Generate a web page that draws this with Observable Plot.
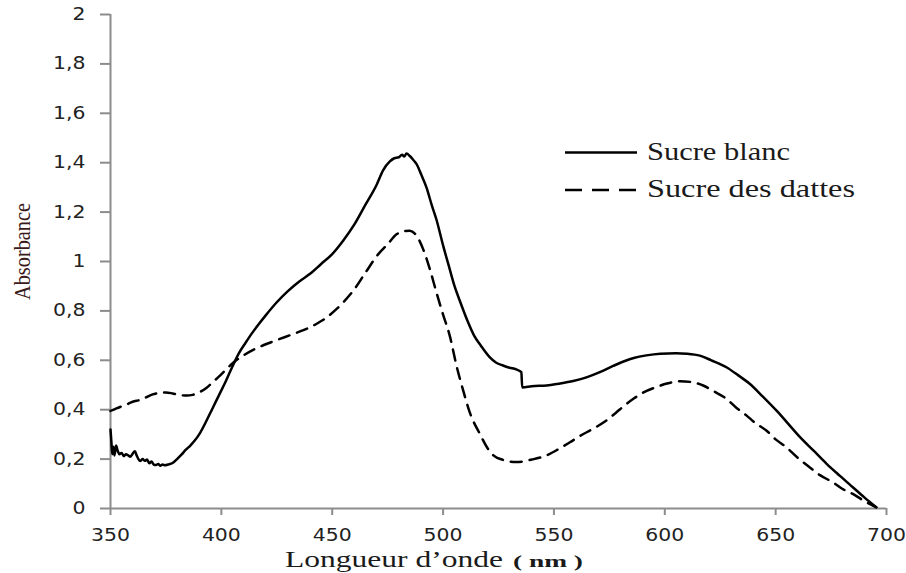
<!DOCTYPE html>
<html>
<head>
<meta charset="utf-8">
<script src="https://cdn.jsdelivr.net/npm/d3@7"></script>
<script src="https://cdn.jsdelivr.net/npm/@observablehq/plot@0.6"></script>
<style>
  html, body { margin: 0; padding: 0; background: #fff; }
  #chart svg [aria-label="y-axis tick"], #chart svg [aria-label="x-axis tick"] { stroke: #8c8c8c; stroke-width: 2px; }
  #chart svg [aria-label="y-axis tick label"], #chart svg [aria-label="x-axis tick label"] { fill: #222; }
</style>
</head>
<body>
<div id="chart"></div>
<script>
// Wavelength (nm) and absorbance values
const seriesNames = ["Sucre blanc", "Sucre des dattes"];

const nmBlanc = [350,350.4,350.8,351.3,351.8,352.5,353.2,354,355,356,357,358,359,360,361,361.8,362.6,363.5,364.5,365.5,366.5,367.5,368.5,369.5,370.5,371.5,372.5,373.5,374.5,376,378,380,382,384,386,388,390,393,396,399,402,405,408,411,414,417,420,425,430,435,440,445,450,455,460,465,470,473,476,478,480,481.5,482.5,483.5,485,486.5,488,490,492.5,495,497,500,502.5,505,508,511,514,517,521,524,527,530,533,535.3,535.7,540,546.7,552,558.7,565,570.7,576.7,582,586,591.7,598,605,610,615.8,621,627.8,633,638.3,644,650.3,655,661,667,673,679,684.8,690,695.4];
const absBlanc = [0.32,0.27,0.22,0.25,0.215,0.255,0.235,0.22,0.225,0.212,0.22,0.215,0.21,0.222,0.232,0.215,0.2,0.192,0.2,0.193,0.198,0.183,0.19,0.178,0.176,0.18,0.173,0.178,0.175,0.178,0.184,0.2,0.218,0.238,0.255,0.275,0.3,0.35,0.405,0.46,0.515,0.575,0.63,0.672,0.712,0.748,0.782,0.835,0.88,0.918,0.95,0.99,1.03,1.085,1.15,1.23,1.31,1.37,1.405,1.418,1.422,1.432,1.425,1.437,1.427,1.412,1.395,1.355,1.3,1.225,1.17,1.065,0.985,0.905,0.83,0.76,0.7,0.66,0.613,0.59,0.579,0.57,0.563,0.552,0.49,0.495,0.498,0.505,0.516,0.532,0.552,0.577,0.597,0.609,0.62,0.627,0.629,0.627,0.619,0.6,0.572,0.54,0.505,0.455,0.397,0.35,0.289,0.235,0.181,0.132,0.086,0.045,0.005];

const nmDattes = [350,352,354,357,360,363.5,366,369,372,375,378,381,384.5,387,390,393.5,396,399,402.5,406,410,415,420.6,425,432.6,437,443,447,452,455,459.6,465,470.8,475,479,482,485,488,491,494,497,500,503,506,509,512,516.7,520,522.7,527,533,540,546.7,552,557.2,562,567.7,573,578,582,586,590,596,601,606.8,612,617.3,622,627.8,632,636.8,641,645.8,650,654.8,660,665.3,670,675.8,680,684.8,690,695.4];
const absDattes = [0.395,0.402,0.41,0.42,0.432,0.44,0.45,0.462,0.468,0.47,0.466,0.46,0.457,0.46,0.47,0.49,0.51,0.535,0.566,0.595,0.62,0.645,0.667,0.682,0.707,0.722,0.748,0.77,0.808,0.835,0.883,0.955,1.03,1.07,1.11,1.122,1.125,1.105,1.05,0.97,0.875,0.785,0.70,0.58,0.48,0.39,0.3,0.245,0.215,0.197,0.188,0.198,0.215,0.24,0.268,0.295,0.323,0.352,0.388,0.418,0.445,0.468,0.491,0.506,0.515,0.512,0.498,0.475,0.444,0.41,0.377,0.345,0.316,0.28,0.248,0.205,0.167,0.135,0.106,0.08,0.059,0.03,0.005];

const xDomain = [350, 700];
const yDomain = [0, 2];
const xTicks = [350, 400, 450, 500, 550, 600, 650, 700];
const yTicks = [0, 0.2, 0.4, 0.6, 0.8, 1, 1.2, 1.4, 1.6, 1.8, 2];
const xTitle = "Longueur d\u2019onde";
const xUnit = "( nm )";
const yTitle = "Absorbance";

const blanc = nmBlanc.map((x, i) => ({nm: x, a: absBlanc[i]}));
const dattes = nmDattes.map((x, i) => ({nm: x, a: absDattes[i]}));

const axisColor = "#8c8c8c";

const chart = Plot.plot({
  width: 906,
  height: 573,
  marginLeft: 110,
  marginRight: 20,
  marginTop: 14,
  marginBottom: 65,
  style: {background: "#fff", fontFamily: "DejaVu Sans", fontSize: "17px", overflow: "visible"},
  x: {domain: xDomain},
  y: {domain: yDomain},
  marks: [
    Plot.axisY({ticks: yTicks, tickSize: 10, tickPadding: 15, label: null, tickFormat: d => String(d).replace(".", ","), fontSize: 17}),
    Plot.axisX({ticks: xTicks, tickSize: 7, tickPadding: 13, label: null, tickFormat: d => String(d), fontSize: 17}),
    Plot.ruleX([xDomain[0]], {y1: yDomain[0], y2: yDomain[1], stroke: axisColor, strokeWidth: 2}),
    Plot.ruleY([yDomain[0]], {x1: xDomain[0], x2: xDomain[1], stroke: axisColor, strokeWidth: 2}),
    Plot.line(dattes, {x: "nm", y: "a", stroke: "#000", strokeWidth: 2.5, strokeDasharray: "11,8", curve: "monotone-x"}),
    Plot.line(blanc, {x: "nm", y: "a", stroke: "#000", strokeWidth: 2.5, curve: "monotone-x"})
  ]
});

document.getElementById("chart").appendChild(chart);

const svg = d3.select(chart);

// Stretch tick labels horizontally like the reference
svg.selectAll('[aria-label="y-axis tick label"] text, [aria-label="x-axis tick label"] text').each(function() {
  const l = this.getComputedTextLength();
  this.setAttribute("textLength", l * 1.2);
  this.setAttribute("lengthAdjust", "spacingAndGlyphs");
});

const serif = "'Liberation Serif', 'Times New Roman', serif";

// Axis titles
svg.append("text")
  .attr("x", 285).attr("y", 567).attr("text-anchor", "start")
  .attr("font-family", serif).attr("font-size", 23).attr("fill", "#1a1a1a")
  .attr("textLength", 218).attr("lengthAdjust", "spacingAndGlyphs")
  .text(xTitle);
svg.append("text")
  .attr("x", 513).attr("y", 567).attr("text-anchor", "start")
  .attr("font-family", serif).attr("font-size", 16).attr("font-weight", "bold").attr("fill", "#1a1a1a")
  .attr("textLength", 70).attr("lengthAdjust", "spacingAndGlyphs")
  .text(xUnit);
svg.append("text")
  .attr("transform", "translate(30,300) scale(1.3,1) rotate(-90)").attr("text-anchor", "start")
  .attr("font-family", serif).attr("font-size", 18).attr("fill", "#3a1a1a")
  .attr("textLength", 97).attr("lengthAdjust", "spacingAndGlyphs")
  .text(yTitle);

// Legend
const legend = svg.append("g").attr("text-anchor", "start");
const rows = [{name: seriesNames[0], dash: null, y: 152.5, w: 143}, {name: seriesNames[1], dash: "17,10", y: 190, w: 208}];
rows.forEach(r => {
  legend.append("line")
    .attr("x1", 565).attr("x2", 637).attr("y1", r.y).attr("y2", r.y)
    .attr("stroke", "#000").attr("stroke-width", 2.6)
    .attr("stroke-dasharray", r.dash);
  legend.append("text")
    .attr("x", 647).attr("y", r.y + 7).attr("text-anchor", "start")
    .attr("font-family", serif).attr("font-size", 25).attr("fill", "#1a1a1a")
    .attr("textLength", r.w).attr("lengthAdjust", "spacingAndGlyphs")
    .text(r.name);
});
</script>
</body>
</html>
